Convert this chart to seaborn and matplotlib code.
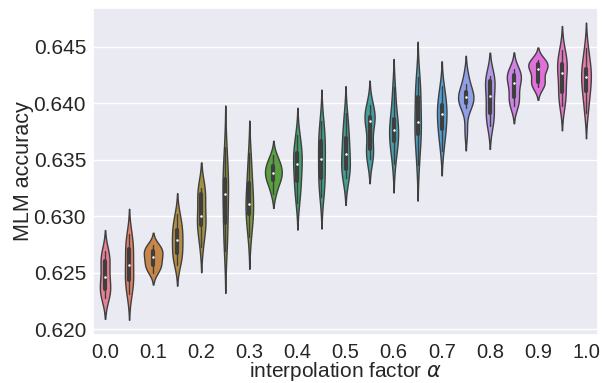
"""
Violin plot: MLM accuracy vs interpolation factor alpha
"""

import pandas as pd
import matplotlib
matplotlib.use("Agg")
import matplotlib.pyplot as plt
import seaborn as sns

# categorias del eje x (factor de interpolacion)
alphas = ["0.0", "0.05", "0.1", "0.15", "0.2", "0.25", "0.3", "0.35", "0.4", "0.45", "0.5",
          "0.55", "0.6", "0.65", "0.7", "0.75", "0.8", "0.85", "0.9", "0.95", "1.0"]
tick_labels = ["0.0", "0.1", "0.2", "0.3", "0.4", "0.5", "0.6", "0.7", "0.8", "0.9", "1.0"]
y_ticks = [0.620, 0.625, 0.630, 0.635, 0.640, 0.645]

# precision MLM de cada corrida, una lista por alpha
acc_000 = [0.6228, 0.6232, 0.6235, 0.6236, 0.6244, 0.6248, 0.6258, 0.6261, 0.6265, 0.6269]
acc_005 = [0.6231, 0.6239, 0.6243, 0.6246, 0.6255, 0.6259, 0.6269, 0.6272, 0.6278, 0.6284]
acc_010 = [0.6250, 0.6254, 0.6257, 0.6258, 0.6263, 0.6265, 0.6268, 0.6270, 0.6272, 0.6275]
acc_015 = [0.6257, 0.6263, 0.6267, 0.6270, 0.6277, 0.6281, 0.6286, 0.6289, 0.6295, 0.6302]
acc_020 = [0.6273, 0.6284, 0.6291, 0.6295, 0.6299, 0.6301, 0.6316, 0.6321, 0.6323, 0.6325]
acc_025 = [0.6269, 0.6282, 0.6292, 0.6300, 0.6318, 0.6322, 0.6330, 0.6334, 0.6346, 0.6361]
acc_030 = [0.6282, 0.6294, 0.6300, 0.6308, 0.6309, 0.6313, 0.6326, 0.6330, 0.6342, 0.6356]
acc_035 = [0.6320, 0.6328, 0.6331, 0.6335, 0.6337, 0.6339, 0.6343, 0.6345, 0.6348, 0.6354]
acc_040 = [0.6312, 0.6322, 0.6330, 0.6334, 0.6344, 0.6348, 0.6354, 0.6356, 0.6363, 0.6372]
acc_045 = [0.6317, 0.6326, 0.6333, 0.6337, 0.6349, 0.6353, 0.6364, 0.6367, 0.6375, 0.6384]
acc_050 = [0.6334, 0.6338, 0.6341, 0.6345, 0.6353, 0.6357, 0.6367, 0.6370, 0.6380, 0.6391]
acc_055 = [0.6351, 0.6355, 0.6358, 0.6362, 0.6383, 0.6385, 0.6386, 0.6388, 0.6392, 0.6398]
acc_060 = [0.6346, 0.6360, 0.6366, 0.6367, 0.6374, 0.6378, 0.6384, 0.6387, 0.6400, 0.6414]
acc_065 = [0.6345, 0.6360, 0.6372, 0.6375, 0.6381, 0.6385, 0.6402, 0.6406, 0.6414, 0.6423]
acc_070 = [0.6358, 0.6370, 0.6377, 0.6379, 0.6388, 0.6392, 0.6396, 0.6399, 0.6407, 0.6415]
acc_075 = [0.6375, 0.6396, 0.6400, 0.6401, 0.6404, 0.6406, 0.6408, 0.6410, 0.6417, 0.6425]
acc_080 = [0.6380, 0.6386, 0.6390, 0.6394, 0.6404, 0.6408, 0.6418, 0.6420, 0.6422, 0.6424]
acc_085 = [0.6397, 0.6401, 0.6404, 0.6408, 0.6417, 0.6419, 0.6423, 0.6425, 0.6427, 0.6430]
acc_090 = [0.6414, 0.6417, 0.6418, 0.6422, 0.6429, 0.6431, 0.6433, 0.6435, 0.6436, 0.6438]
acc_095 = [0.6397, 0.6404, 0.6409, 0.6413, 0.6425, 0.6429, 0.6433, 0.6435, 0.6441, 0.6447]
acc_100 = [0.6391, 0.6402, 0.6410, 0.6414, 0.6421, 0.6425, 0.6429, 0.6431, 0.6440, 0.6449]

runs = [acc_000, acc_005, acc_010, acc_015, acc_020, acc_025, acc_030, acc_035, acc_040,
        acc_045, acc_050, acc_055, acc_060, acc_065, acc_070, acc_075, acc_080, acc_085,
        acc_090, acc_095, acc_100]

filas = []
for a, valores in zip(alphas, runs):
    for v in valores:
        filas.append({"alpha": a, "acc": v})
df = pd.DataFrame(filas)

sns.set_theme(style="darkgrid")
plt.rcParams["font.family"] = ["Liberation Sans", "DejaVu Sans"]

fig = plt.figure(figsize=(6.02, 3.83), dpi=100)
ax = fig.add_axes([0.1545, 0.1253, 0.8389, 0.8537])
sns.violinplot(data=df, x="alpha", y="acc", hue="alpha", order=alphas, hue_order=alphas,
               palette="husl", legend=False, inner="box", linewidth=1,
               common_norm=True,
               inner_kws=dict(box_width=3, whis_width=1, marker="o"), ax=ax)

# puntos de mediana mas chicos, sin borde
for linea in ax.lines:
    if linea.get_marker() == "o":
        linea.set_markersize(1.8)
        linea.set_markeredgewidth(0)
        linea.set_markerfacecolor("white")

ax.set_xticks(range(0, len(alphas), 2))
ax.set_xticklabels(tick_labels, fontsize=14.5)
ax.set_yticks(y_ticks)
ax.set_yticklabels([f"{t:.3f}" for t in y_ticks], fontsize=15)
ax.set_ylim(0.6195, 0.6484)
ax.set_xlim(-0.5, len(alphas) - 0.5)
ax.tick_params(axis="both", length=0)
ax.tick_params(axis="y", pad=5)
ax.tick_params(axis="x", pad=6)
ax.set_xlabel("interpolation factor $\\alpha$", fontsize=15, labelpad=-2)
ax.set_ylabel("MLM accuracy", fontsize=15.5, labelpad=0)

fig.savefig("out.png", dpi=100)
